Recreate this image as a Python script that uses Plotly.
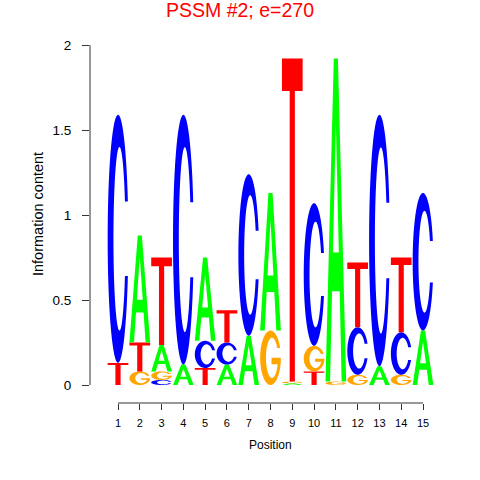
import math
import plotly.graph_objects as go

# ---- data (information content per letter, per position) ----
positions = list(range(1, 16))
letters = ["A", "C", "G", "T"]
A_h = [0.00, 0.63, 0.155, 0.12, 0.49, 0.12, 0.29, 0.81, 0.01, 0.00, 1.90, 0.00, 0.11, 0.00, 0.32]
C_h = [1.46, 0.00, 0.03, 1.47, 0.16, 0.13, 0.95, 0.00, 0.00, 0.84, 0.00, 0.28, 1.48, 0.25, 0.81]
G_h = [0.00, 0.08, 0.05, 0.00, 0.00, 0.00, 0.00, 0.32, 0.01, 0.15, 0.02, 0.06, 0.00, 0.06, 0.00]
T_h = [0.13, 0.17, 0.515, 0.00, 0.10, 0.19, 0.00, 0.00, 1.90, 0.08, 0.00, 0.38, 0.00, 0.44, 0.00]
heights = {"A": A_h, "C": C_h, "G": G_h, "T": T_h}
colors = {"A": "#00FF00", "C": "#0000FF", "G": "#FFA500", "T": "#FF0000"}
y_ticks = [0, 0.5, 1, 1.5, 2]
y_ticktext = ["0", "0.5", "1", "1.5", "2"]
title_text = "PSSM #2; e=270"

FONT = "Liberation Sans, Arial, Helvetica, sans-serif"

# ---- glyph outlines in a unit box ----
def ell(cx, cy, rx, ry, t):
    return (cx + rx * math.cos(t), cy + ry * math.sin(t))

def arc(cx, cy, rx, ry, t0, t1, n=60):
    return [ell(cx, cy, rx, ry, t0 + (t1 - t0) * i / n) for i in range(n + 1)]

def glyph_C():
    o = (0.5, 0.5, 0.5, 0.5)
    i = (0.57, 0.5, 0.29, 0.37)
    yc = 0.65
    to = math.asin((yc - 0.5) / 0.5)
    ti = math.asin((yc - 0.5) / 0.37)
    pts = arc(*o, to, 2 * math.pi - to) + arc(*i, 2 * math.pi - ti, ti)
    return [pts]

def glyph_G():
    o = (0.5, 0.5, 0.5, 0.5)
    i = (0.57, 0.5, 0.29, 0.37)
    yc = 0.68
    to = math.asin((yc - 0.5) / 0.5)
    ti = math.asin((yc - 0.5) / 0.37)
    yb = 0.38
    tb = 2 * math.pi + math.asin((yb - 0.5) / 0.37)
    pts = arc(*o, to, 2 * math.pi)
    pts += [(0.55, 0.5), (0.55, yb)]
    pts += arc(*i, tb, ti)
    return [pts]

def glyph_A():
    outer = [(0, 0), (0.4, 1), (0.6, 1), (1, 0), (0.78, 0), (0.684, 0.28),
             (0.316, 0.28), (0.22, 0)]
    hole = [(0.357, 0.40), (0.643, 0.40), (0.5, 0.80)]
    return [outer, hole]

def glyph_T():
    return [[(0.375, 0), (0.625, 0), (0.625, 0.9), (1, 0.9), (1, 1),
             (0, 1), (0, 0.9), (0.375, 0.9)]]

glyphs = {"A": glyph_A(), "C": glyph_C(), "G": glyph_G(), "T": glyph_T()}

def glyph_path(letter, x, y0, h, w=0.95):
    parts = []
    for poly in glyphs[letter]:
        coords = [(x - w / 2 + u * w, y0 + v * h) for u, v in poly]
        s = "M " + " L ".join(f"{a:.5f},{b:.5f}" for a, b in coords) + " Z"
        parts.append(s)
    return " ".join(parts)

shapes = []
for k, p in enumerate(positions):
    stack = sorted(letters, key=lambda L: heights[L][k])
    base = 0.0
    for L in stack:
        h = heights[L][k]
        if h <= 0:
            continue
        shapes.append(dict(type="path", xref="x", yref="y",
                           path=glyph_path(L, p, base, h),
                           fillcolor=colors[L], fillrule="evenodd",
                           line=dict(width=0), layer="above"))
        base += h

# R-style axis lines spanning only the data range
shapes.append(dict(type="line", xref="x", yref="paper", x0=positions[0], x1=positions[-1],
                   y0=0, y1=0, line=dict(color="#333333", width=1)))
shapes.append(dict(type="line", xref="paper", yref="y", x0=0, x1=0,
                   y0=y_ticks[0], y1=y_ticks[-1], line=dict(color="#333333", width=1)))

fig = go.Figure()
fig.add_trace(go.Scatter(x=positions, y=[0] * len(positions), mode="markers",
                         marker=dict(opacity=0), hoverinfo="skip", showlegend=False))

unit = 305 / 14
fig.update_layout(
    width=480, height=480,
    margin=dict(l=90, r=40, t=45, b=77),
    paper_bgcolor="white", plot_bgcolor="white",
    shapes=shapes,
    showlegend=False,
    title=dict(text=title_text, x=0.5, xref="container", xanchor="center",
               y=1 - 10.5 / 480, yref="container", yanchor="middle",
               font=dict(family=FONT, size=19.5, color="#FF0000")),
    xaxis=dict(range=[1 - 28 / unit, 1 + 322 / unit], tickvals=positions,
               ticktext=[str(p) for p in positions],
               ticks="outside", ticklen=6, tickcolor="#333333", tickwidth=1,
               showline=False, showgrid=False, zeroline=False,
               tickfont=dict(family=FONT, size=11, color="black"),
               ticklabelstandoff=4, fixedrange=True),
    yaxis=dict(range=[-18 / 170, 2], tickvals=y_ticks, ticktext=y_ticktext,
               ticks="outside", ticklen=7, tickcolor="#333333", tickwidth=1,
               showline=False, showgrid=False, zeroline=False,
               tickfont=dict(family=FONT, size=13.5, color="black"),
               ticklabelstandoff=8, fixedrange=True),
    annotations=[
        dict(text="Position", xref="paper", yref="paper",
             x=(270 - 90) / 350, y=(403 - 445) / 358, xanchor="center", yanchor="middle",
             showarrow=False, font=dict(family=FONT, size=12, color="black")),
        dict(text="Information content", xref="paper", yref="paper",
             x=(38 - 90) / 350, y=(403 - 214) / 358, xanchor="center", yanchor="middle",
             textangle=-90, showarrow=False, font=dict(family=FONT, size=14.5, color="black")),
    ],
)

fig.write_html("out.html", config={"displayModeBar": False},
               post_script="document.body.style.margin='0';")
